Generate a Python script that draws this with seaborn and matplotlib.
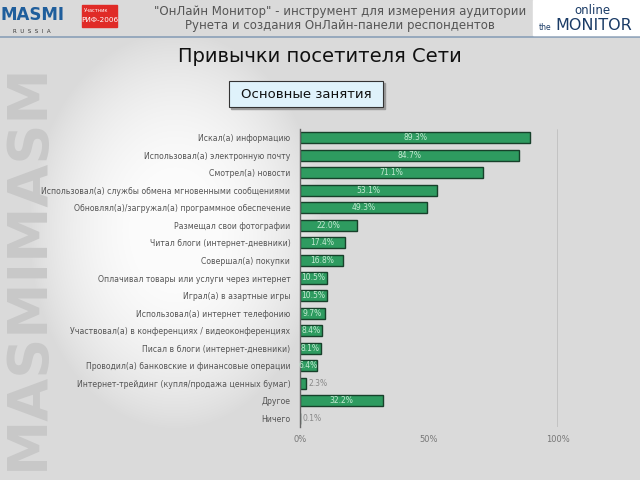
import numpy as np
import pandas as pd
import matplotlib
matplotlib.use("Agg")
import matplotlib.pyplot as plt
import matplotlib.patches as mpatches
import seaborn as sns

categories = [
    "Искал(а) информацию",
    "Использовал(а) электронную почту",
    "Смотрел(а) новости",
    "Использовал(а) службы обмена мгновенными сообщениями",
    "Обновлял(а)/загружал(а) программное обеспечение",
    "Размещал свои фотографии",
    "Читал блоги (интернет-дневники)",
    "Совершал(а) покупки",
    "Оплачивал товары или услуги через интернет",
    "Играл(а) в азартные игры",
    "Использовал(а) интернет телефонию",
    "Участвовал(а) в конференциях / видеоконференциях",
    "Писал в блоги (интернет-дневники)",
    "Проводил(а) банковские и финансовые операции",
    "Интернет-трейдинг (купля/продажа ценных бумаг)",
    "Другое",
    "Ничего",
]
values = [89.3, 84.7, 71.1, 53.1, 49.3, 22.0, 17.4, 16.8, 10.5, 10.5, 9.7, 8.4, 8.1, 6.4, 2.3, 32.2, 0.1]
x_ticks = [0, 50, 100]
x_tick_labels = ["0%", "50%", "100%"]

title = "Привычки посетителя Сети"
subtitle = "Основные занятия"
header_lines = ['"ОнЛайн Монитор" - инструмент для измерения аудитории',
                "Рунета и создания ОнЛайн-панели респондентов"]

df = pd.DataFrame({"cat": categories, "val": values})

sns.set_theme(style="white")
plt.rcParams["font.family"] = ["DejaVu Sans"]

W, H = 640, 480
fig = plt.figure(figsize=(6.4, 4.8), dpi=100)
bg = "#dadada"
fig.patch.set_facecolor(bg)

# background with soft white swoosh
bgax = fig.add_axes([0, 0, 1, 1], zorder=-10)
yy, xx = np.mgrid[0:H, 0:W]
d = ((xx - 175) / 140.0) ** 2 + ((yy - 230) / 190.0) ** 2
blob = np.clip(1.1 - d, 0, 1) ** 0.9
img = 0.855 + (1.0 - 0.855) * blob * 0.9
bgax.imshow(np.dstack([img, img, img]), extent=[0, W, H, 0], aspect="auto")
bgax.set_xlim(0, W)
bgax.set_ylim(H, 0)
bgax.axis("off")
# watermark
bgax.text(28, 470, "MASMIMASM", rotation=90, ha="center", va="bottom",
          fontsize=40, fontweight="bold", color="#c8c8c8")
# header band
bgax.add_patch(mpatches.Rectangle((0, 0), W, 36, color=bg, zorder=2))
bgax.plot([0, W], [36.5, 36.5], color="#8aa0b8", lw=1.2, zorder=3)
# left logo
bgax.text(32, 15, "MASMI", ha="center", va="center", fontsize=12, fontweight="bold",
          color="#1f5e9c", zorder=4)
bgax.text(32, 31.5, "R  U  S  S  I  A", ha="center", va="center", fontsize=4,
          color="#333333", zorder=4)
bgax.add_patch(mpatches.Rectangle((82, 5), 35, 22, color="#e02b27", zorder=4))
bgax.text(84, 10, "Участник", ha="left", va="center", fontsize=3.6, color="white", zorder=5)
bgax.text(99.5, 20, "РИФ-2006", ha="center", va="center", fontsize=5.2, color="white", zorder=5)
# right logo
bgax.add_patch(mpatches.Rectangle((533, 0), 107, 35, color="white", zorder=4))
bgax.text(592, 10, "online", ha="center", va="center", fontsize=8.5, color="#1a3b66", zorder=5)
bgax.text(545, 27, "the", ha="center", va="center", fontsize=5.5, color="#1a3b66", zorder=5)
bgax.text(594, 25, "MONITOR", ha="center", va="center", fontsize=11.5, color="#1a3b66", zorder=5)
# header text
for i, line in enumerate(header_lines):
    bgax.text(340, 12 + i * 14, line, ha="center", va="center", fontsize=8.5,
              color="#555555", zorder=5)
# title
bgax.text(320, 57, title, ha="center", va="center", fontsize=14, color="#111111", zorder=5)
# subtitle box
bgax.add_patch(mpatches.Rectangle((231, 83), 154, 26, color="#9a9a9a", zorder=4))
bgax.add_patch(mpatches.Rectangle((229, 81), 154, 26, facecolor="#dff2fb",
                                  edgecolor="#333333", lw=0.8, zorder=5))
bgax.text(306, 94, subtitle, ha="center", va="center", fontsize=9.5, color="#111111", zorder=6)

# chart axes
ax = fig.add_axes([300 / W, 1 - 427 / H, 258 / W, 298 / H])
ax.set_facecolor("none")
sns.barplot(data=df, x="val", y="cat", orient="h", ax=ax, color="#2e9b60",
            saturation=1, edgecolor="#17402a", linewidth=1.0, width=0.63)
ax.set_xlim(0, 100)
ax.set_ylim(len(categories) - 0.5, -0.5)
ax.set_xlabel("")
ax.set_ylabel("")
ax.set_xticks(x_ticks)
ax.set_xticklabels(x_tick_labels)
ax.tick_params(axis="x", length=0, labelsize=6, colors="#777777", pad=6)
ax.tick_params(axis="y", length=0, labelsize=5.6, colors="#555555", pad=7)
ax.set_yticks(np.arange(-0.5, len(categories), 1), minor=True)
ax.tick_params(axis="y", which="minor", length=3, color="#555555", width=0.7)
for s in ["top", "bottom", "right"]:
    ax.spines[s].set_visible(False)
ax.spines["left"].set_color("#666666")
ax.spines["left"].set_linewidth(1.0)
ax.axvline(100, color="#666666", lw=1.0)

for i, v in enumerate(values):
    lbl = f"{v:.1f}%"
    if v < 4:
        ax.text(v + 1.0, i, lbl, ha="left", va="center", fontsize=5.5, color="#888888")
    else:
        ax.text(v / 2, i, lbl, ha="center", va="center", fontsize=5.5, color="#c4ead3")

fig.savefig("out.png", dpi=100, facecolor=fig.get_facecolor())
